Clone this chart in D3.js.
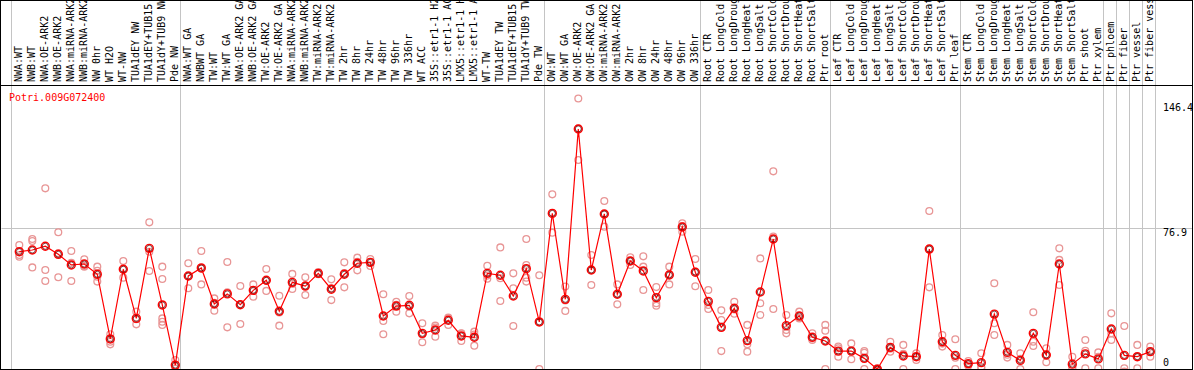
<!DOCTYPE html>
<html>
<head>
<meta charset="utf-8">
<script src="https://cdn.jsdelivr.net/npm/d3@7"></script>
<style>
  html, body { margin: 0; padding: 0; background: #fff; }
  svg { display: block; }
  text { font-family: "DejaVu Sans Mono", monospace; font-size: 10px; }
</style>
</head>
<body>
<div id="chart"></div>
<script>
const geneId = 'Potri.009G072400';

const samples = [
  'NWA:WT', 'NWB:WT', 'NWA:OE-ARK2', 'NWB:OE-ARK2', 'NWA:miRNA-ARK2', 'NWB:miRNA-ARK2',
  'NW 0hr', 'WT H2O', 'WT-NW', 'TUA1dEY NW', 'TUA1dEY+TUB15 NW', 'TUA1dY+TUB9 NW', 'Pde NW',
  'NWA:WT GA', 'NWBWT GA', 'TW:WT', 'TW:WT GA', 'NWA:OE-ARK2 GA', 'NWB:OE-ARK2 GA',
  'TW:OE-ARK2', 'TW:OE-ARK2 GA', 'NWA:miRNA-ARK2 GA', 'NWB:miRNA-ARK2 GA', 'TW:miRNA-ARK2',
  'TW:miRNA-ARK2 GA', 'TW 2hr', 'TW 8hr', 'TW 24hr', 'TW 48hr', 'TW 96hr', 'TW 336hr',
  'WT ACC', '35S::etr1-1 H2O', '35S::etr1-1 ACC', 'LMX5::etr1-1 H2O', 'LMX5::etr1-1 ACC',
  'WT-TW', 'TUA1dEY TW', 'TUA1dEY+TUB15 TW', 'TUA1dY+TUB9 TW', 'Pde TW',
  'OW:WT', 'OW:WT GA', 'OW:OE-ARK2', 'OW:OE-ARK2 GA', 'OW:miRNA-ARK2', 'OW:miRNA-ARK2 GA',
  'OW 2hr', 'OW 8hr', 'OW 24hr', 'OW 48hr', 'OW 96hr', 'OW 336hr',
  'Root CTR', 'Root LongCold', 'Root LongDrought', 'Root LongHeat', 'Root LongSalt',
  'Root ShortCold', 'Root ShortDrought', 'Root ShortHeat', 'Root ShortSalt', 'Ptr root',
  'Leaf CTR', 'Leaf LongCold', 'Leaf LongDrought', 'Leaf LongHeat', 'Leaf LongSalt',
  'Leaf ShortCold', 'Leaf ShortDrought', 'Leaf ShortHeat', 'Leaf ShortSalt', 'Ptr leaf',
  'Stem CTR', 'Stem LongCold', 'Stem LongDrought', 'Stem LongHeat', 'Stem LongSalt',
  'Stem ShortCold', 'Stem ShortDrought', 'Stem ShortHeat', 'Stem ShortSalt', 'Ptr shoot',
  'Ptr xylem', 'Ptr phloem', 'Ptr fiber', 'Ptr vessel', 'Ptr fiber vessel'
];

const meanValues = [
  64.4, 65.3, 67.3, 63.0, 57.3, 57.8, 52.3, 17.7, 55.0, 28.7, 66.2, 35.9, 3.7,
  51.4, 55.7, 36.4, 41.8, 36.0, 43.7, 49.1, 32.5, 48.0, 46.0, 52.8, 44.3, 52.3, 58.2, 58.7,
  30.0, 35.3, 35.7, 20.7, 22.5, 27.7, 19.3, 18.6, 52.8, 51.8, 40.7, 55.3, 26.8,
  84.9, 38.9, 130.1, 54.6, 84.6, 41.6, 59.4, 54.1, 39.8, 51.9, 77.6, 53.4,
  37.8, 23.9, 34.1, 16.8, 42.8, 71.2, 24.8, 30.0, 18.6, 16.6,
  11.2, 11.2, 7.3, 1.5, 13.2, 8.6, 8.2, 65.8, 16.2, 8.9,
  4.5, 5.0, 31.0, 10.5, 6.2, 20.7, 9.1, 57.8, 4.2, 9.7,
  7.0, 23.0, 8.9, 8.2, 10.9
];

const replicateValues = [
  [68.0, 62.6, 61.7], [71.2, 70.1, 56.0], [98.3, 54.6, 48.7], [74.8, 63.5, 50.7],
  [64.8, 58.4, 48.7], [60.3, 56.7, 56.4], [56.4, 54.2, 51.0, 48.4], [20.2, 16.2, 14.8],
  [59.4, 55.1, 50.5], [32.3, 28.3, 25.5], [80.1, 64.4, 54.1], [56.4, 49.8, 28.7, 26.9, 25.2],
  [6.4, 2.9, 1.8],
  [58.2, 51.2, 44.8], [64.8, 55.4, 46.9], [39.4, 37.0, 32.8], [58.9, 42.6, 23.9],
  [46.0, 36.3, 25.7], [46.9, 43.9, 40.3], [55.1, 48.8, 43.4], [40.8, 31.9, 24.8],
  [52.5, 47.1, 44.4], [50.7, 46.1, 41.2], [53.5, 52.6, 52.3], [49.6, 44.8, 38.5],
  [58.7, 52.9, 45.3], [61.2, 59.0, 54.4], [60.5, 58.9, 56.7], [41.6, 27.3, 20.2],
  [37.6, 36.0, 32.3], [40.7, 35.0, 31.4], [26.1, 20.1, 15.9], [24.8, 23.8, 18.9],
  [29.1, 28.8, 25.2], [20.6, 20.7, 16.6], [21.6, 20.1, 14.1], [56.9, 51.6, 49.9],
  [66.7, 50.2, 38.0], [52.8, 44.8, 24.6], [71.2, 57.3, 50.5, 48.4], [51.8, 26.8, 1.6],
  [95.1, 85.1, 74.6], [45.7, 38.3, 32.7], [146.4, 130.3, 113.5], [62.6, 54.6, 46.6],
  [91.5, 84.5, 77.8], [46.9, 41.7, 36.2], [61.4, 59.5, 57.3], [61.9, 56.4, 43.9],
  [45.5, 36.8, 35.5], [56.4, 52.4, 46.9], [79.6, 78.1, 75.1], [60.5, 53.8, 45.9],
  [43.9, 35.9, 33.7], [33.0, 27.8, 11.2], [37.6, 33.5, 31.2], [25.2, 14.8, 10.9],
  [60.8, 36.8, 30.5], [107.4, 72.5, 33.7], [30.5, 22.5, 20.7], [32.3, 29.0, 28.7],
  [20.7, 18.0, 17.1], [25.2, 22.1, 1.6],
  [13.6, 12.7, 8.2], [15.3, 11.5, 6.8], [11.2, 10.3, 1.6], [2.0, 1.2, 0.6],
  [16.2, 12.5, 10.9], [14.5, 9.7, 1.6], [10.0, 8.2, 6.4], [86.2, 65.9, 45.3],
  [19.8, 15.2, 13.6], [17.5, 7.6, 1.6],
  [5.9, 4.2, 3.4], [10.0, 2.7, 2.3], [47.5, 26.1, 19.8], [14.5, 9.3, 7.7],
  [10.0, 7.0, 1.6], [32.0, 16.2, 13.9], [12.7, 9.4, 5.2], [66.2, 60.0, 46.6],
  [8.2, 2.5, 2.0], [17.1, 11.4, 2.0],
  [10.5, 8.2, 2.0], [31.4, 20.7, 17.1], [24.6, 2.0, 0.2], [14.5, 8.1, 2.0], [13.6, 10.9, 8.2]
];

// first sample of each block gets a separator line
const groupStarts = [
  'NWA:WT', 'NWA:WT GA', 'OW:WT', 'Root CTR', 'Leaf CTR', 'Stem CTR',
  'Ptr phloem', 'Ptr fiber', 'Ptr vessel', 'Ptr fiber vessel'
];

const yTicks = [0, 76.9, 146.4];

const width = 1194;
const height = 370;
const frame = { left: 1.5, right: 1192.5, top: 0.5, header: 85.5, bottom: 369.5 };
const step = 13;
const crisp = v => Math.round(v - 0.5) + 0.5;

const x = d3.scaleBand()
  .domain(d3.range(samples.length))
  .range([11, 11 + step * samples.length]);
const cx = i => x(i) + 8.3;

const y = d3.scaleLinear()
  .domain([0, d3.max(yTicks)])
  .range([372, 98.5]);

const svg = d3.select('#chart')
  .append('svg')
  .attr('width', width)
  .attr('height', height);

svg.append('rect')
  .attr('width', width)
  .attr('height', height)
  .attr('fill', '#fff');

// grid
const vLines = groupStarts.map(s => x(samples.indexOf(s))).concat([x.range()[1]]);
svg.append('g')
  .selectAll('line')
  .data(vLines)
  .enter()
  .append('line')
  .attr('x1', d => crisp(d))
  .attr('x2', d => crisp(d))
  .attr('y1', 0)
  .attr('y2', frame.bottom)
  .attr('stroke', '#c4c4c4')
  .attr('stroke-width', 1);

svg.append('line')
  .attr('x1', frame.left)
  .attr('x2', frame.right)
  .attr('y1', crisp(y(76.9)))
  .attr('y2', crisp(y(76.9)))
  .attr('stroke', '#c4c4c4')
  .attr('stroke-width', 1);

// sample labels
svg.append('g')
  .selectAll('text')
  .data(samples)
  .enter()
  .append('text')
  .attr('transform', (d, i) => `translate(${cx(i) + 2.5},82) rotate(-90)`)
  .attr('fill', '#000')
  .text(d => d);

// data
svg.append('clipPath')
  .attr('id', 'plot-clip')
  .append('rect')
  .attr('x', 2)
  .attr('y', 86)
  .attr('width', frame.right - 2)
  .attr('height', frame.bottom - 86);

const plot = svg.append('g').attr('clip-path', 'url(#plot-clip)');

const reps = replicateValues.flatMap((vals, i) => vals.map(v => ({ i, v })));
plot.append('g')
  .selectAll('circle')
  .data(reps)
  .enter()
  .append('circle')
  .attr('cx', d => cx(d.i))
  .attr('cy', d => y(d.v))
  .attr('r', 3.4)
  .attr('fill', 'none')
  .attr('stroke', '#e89696')
  .attr('stroke-width', 1.3);

const line = d3.line()
  .x((d, i) => cx(i))
  .y(d => y(d));

plot.append('path')
  .datum(meanValues)
  .attr('d', line)
  .attr('fill', 'none')
  .attr('stroke', '#ff0000')
  .attr('stroke-width', 1.2);

const means = plot.append('g')
  .selectAll('g')
  .data(meanValues)
  .enter()
  .append('g')
  .attr('transform', (d, i) => `translate(${cx(i)},${y(d)})`);

means.append('circle')
  .attr('r', 4)
  .attr('fill', 'none')
  .attr('stroke', '#ff0000')
  .attr('stroke-width', 1.4);

means.append('circle')
  .attr('r', 3)
  .attr('fill', 'none')
  .attr('stroke', '#500000')
  .attr('stroke-width', 0.7);

// frame
svg.append('rect')
  .attr('x', frame.left - 1)
  .attr('y', frame.top)
  .attr('width', frame.right - frame.left + 1)
  .attr('height', frame.bottom - frame.top)
  .attr('fill', 'none')
  .attr('stroke', '#000')
  .attr('stroke-width', 1);

svg.append('line')
  .attr('x1', 0)
  .attr('x2', frame.right)
  .attr('y1', frame.header)
  .attr('y2', frame.header)
  .attr('stroke', '#000')
  .attr('stroke-width', 1);

// y tick labels, kept inside the plot box
svg.append('g')
  .selectAll('text')
  .data(yTicks)
  .enter()
  .append('text')
  .attr('x', 1163)
  .attr('y', d => Math.min(Math.max(y(d) + 8, 111), 366))
  .attr('fill', '#000')
  .text(d => d);

svg.append('text')
  .attr('x', 9)
  .attr('y', 101)
  .attr('fill', '#ff0000')
  .text(geneId);
</script>
</body>
</html>
